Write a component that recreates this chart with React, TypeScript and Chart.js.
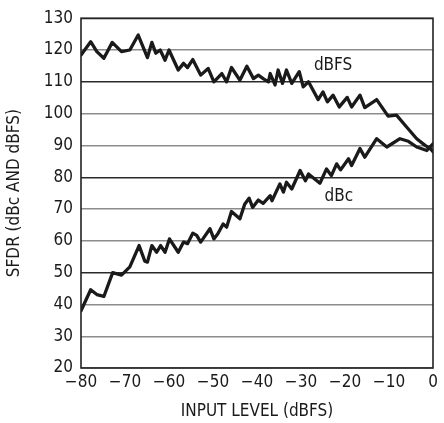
import React, { useEffect, useRef } from "react";
import { Chart, registerables } from "chart.js";

Chart.register(...registerables);

const dbfsX = [-80, -77.8, -76.4, -74.8, -72.9, -70.8, -68.9, -67, -64.9, -63.9, -63, -62, -60.9, -60, -57.9, -56.7, -55.8, -54.6, -52.8, -51.1, -49.8, -48, -46.9, -45.8, -43.9, -42.3, -40.8, -39.7, -38.6, -37.4, -37, -35.9, -35.2, -34.2, -33.3, -32.1, -30.4, -29.5, -28.3, -26.1, -25, -24, -22.7, -21.3, -19.5, -18.5, -16.6, -15.5, -12.8, -10.2, -8.3, -6, -3.7, -1.8, -0.6, 0];
const dbfsY = [118.4, 122.6, 119.5, 117.4, 122.4, 119.5, 120, 124.7, 117.6, 122.4, 119, 120, 116.8, 120, 113.7, 115.8, 114.5, 117, 112.1, 114.2, 110, 112.6, 110, 114.5, 110.5, 114.9, 111, 112.1, 111, 110, 112.6, 109, 113.7, 109.5, 113.7, 109.5, 113.2, 108.4, 110, 104.4, 106.8, 103.7, 105.8, 102.1, 105.1, 102.1, 105.8, 101.9, 104.4, 99.2, 99.5, 95.8, 92.1, 90, 89, 88];

const dbcX = [-80, -77.8, -76.4, -74.8, -72.8, -70.8, -68.9, -66.8, -65.5, -64.9, -63.9, -62.8, -61.9, -60.9, -59.9, -57.9, -56.7, -55.8, -54.6, -53.7, -52.8, -50.7, -49.8, -48.9, -47.7, -46.9, -45.8, -43.9, -42.8, -41.8, -41, -39.7, -38.6, -37, -36.6, -34.8, -34, -33.3, -32.1, -30.2, -29, -28.3, -25.7, -24.2, -23.1, -21.9, -21, -19.2, -18.5, -16.6, -15.5, -12.8, -10.5, -7.5, -5.6, -3.7, -1.4, 0];
const dbcY = [38, 44.6, 43.1, 42.5, 50, 49.2, 51.8, 58.5, 53.6, 53.3, 58.5, 56.4, 58.5, 56.4, 60.6, 56.4, 59.6, 59.1, 62.4, 61.7, 59.6, 63.8, 60.6, 62.2, 65.3, 64.3, 69.2, 66.9, 71.5, 73.4, 70.5, 72.8, 71.8, 74.2, 72.6, 77.9, 75.3, 78.4, 76.3, 82.1, 78.9, 81, 78.1, 82.6, 80.5, 84.2, 82.3, 85.8, 83.7, 89, 86.3, 92.1, 89.5, 92.1, 91.3, 89.5, 88.4, 90.5];

const xTickValues = [-80, -70, -60, -50, -40, -30, -20, -10, 0];
const xTickLabels = ["\u221280", "\u221270", "\u221260", "\u221250", "\u221240", "\u221230", "\u221220", "\u221210", "0"];
const yTickValues = [20, 30, 40, 50, 60, 70, 80, 90, 100, 110, 120, 130];
const yTickLabels = ["20", "30", "40", "50", "60", "70", "80", "90", "100", "110", "120", "130"];

const seriesLabels = ["dBFS", "dBc"];
const labelAt = [
  { x: -22.7, y: 115 },
  { x: -21.4, y: 74 },
];

const FONT = "'Liberation Sans Narrow', 'DejaVu Sans Condensed', 'Roboto', sans-serif";

export default function App() {
  const ref = useRef<HTMLCanvasElement | null>(null);

  useEffect(() => {
    if (!ref.current) return;
    const frame = {
      id: "frame",
      afterDatasetsDraw(chart: any) {
        const { ctx, chartArea: a } = chart;
        ctx.save();
        ctx.strokeStyle = "#222";
        ctx.lineWidth = 1.6;
        ctx.strokeRect(a.left, a.top, a.right - a.left, a.bottom - a.top);
        ctx.fillStyle = "#1a1a1a";
        ctx.font = `17px ${FONT}`;
        ctx.textAlign = "center";
        ctx.textBaseline = "middle";
        const xs = chart.scales.x;
        const ys = chart.scales.y;
        seriesLabels.forEach((t, i) => {
          ctx.fillText(t, xs.getPixelForValue(labelAt[i].x), ys.getPixelForValue(labelAt[i].y));
        });
        ctx.restore();
      },
    };
    const chart = new Chart(ref.current, {
      type: "line",
      data: {
        datasets: [
          {
            label: seriesLabels[0],
            data: dbfsX.map((x, i) => ({ x, y: dbfsY[i] })),
            borderColor: "#1a1a1a",
            borderWidth: 3.3,
            pointRadius: 0,
            tension: 0,
            borderJoinStyle: "round",
            borderCapStyle: "round",
          },
          {
            label: seriesLabels[1],
            data: dbcX.map((x, i) => ({ x, y: dbcY[i] })),
            borderColor: "#1a1a1a",
            borderWidth: 3.3,
            pointRadius: 0,
            tension: 0,
            borderJoinStyle: "round",
            borderCapStyle: "round",
          },
        ],
      },
      options: {
        animation: false,
        responsive: false,
        maintainAspectRatio: false,
        layout: { padding: { top: 18, right: 11, left: 0, bottom: 0 } },
        plugins: { legend: { display: false }, tooltip: { enabled: false } },
        scales: {
          x: {
            type: "linear",
            min: -80,
            max: 0,
            afterBuildTicks: (s: any) => {
              s.ticks = xTickValues.map((v) => ({ value: v }));
            },
            afterFit: (s: any) => {
              s.height = 55;
            },
            ticks: {
              padding: 4,
              color: "#1a1a1a",
              font: { family: FONT, size: 17 },
              maxRotation: 0,
              callback: (v: any) => {
                const i = xTickValues.indexOf(Number(v));
                return i >= 0 ? xTickLabels[i] : "";
              },
            },
            grid: { display: false, drawTicks: false },
            border: { display: false },
            title: {
              display: true,
              text: "INPUT LEVEL (dBFS)",
              color: "#1a1a1a",
              font: { family: FONT, size: 17 },
              padding: { top: 0, bottom: 1 },
            },
          },
          y: {
            type: "linear",
            min: 20,
            max: 130,
            afterBuildTicks: (s: any) => {
              s.ticks = yTickValues.map((v) => ({ value: v }));
            },
            afterFit: (s: any) => {
              s.width = 81;
            },
            ticks: {
              padding: 8,
              color: "#1a1a1a",
              font: { family: FONT, size: 17 },
              callback: (v: any) => {
                const i = yTickValues.indexOf(Number(v));
                return i >= 0 ? yTickLabels[i] : "";
              },
            },
            grid: {
              drawTicks: false,
              lineWidth: 1.4,
              color: (c: any) => {
                const v = c.tick ? c.tick.value : 0;
                return v === 110 || v === 80 || v === 50 ? "#2a2a2a" : "#8c8c8c";
              },
            },
            border: { display: false },
            title: {
              display: true,
              text: "SFDR (dBc AND dBFS)",
              color: "#1a1a1a",
              font: { family: FONT, size: 17 },
              padding: { top: 4, bottom: 0 },
            },
          },
        },
      },
      plugins: [frame],
    });
    return () => chart.destroy();
  }, []);

  return (
    <div style={{ position: "fixed", left: 0, top: 0, width: 444, height: 423, background: "#fff" }}>
      <canvas ref={ref} width={444} height={423} style={{ width: 444, height: 423 }} />
    </div>
  );
}
